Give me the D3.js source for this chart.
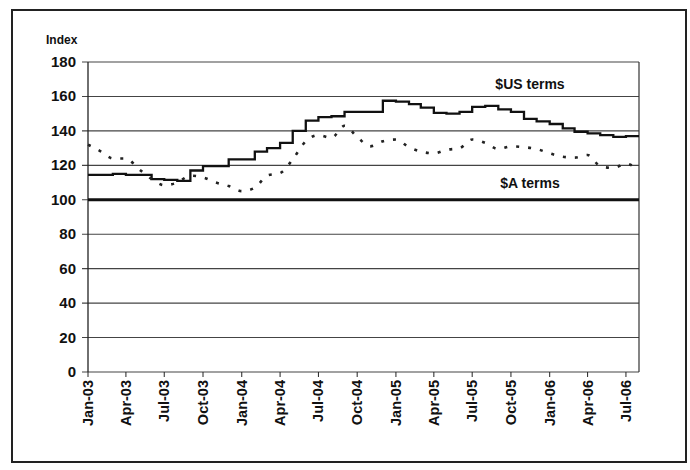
<!DOCTYPE html>
<html>
<head>
<meta charset="utf-8">
<script src="https://cdn.jsdelivr.net/npm/d3@7/dist/d3.min.js"></script>
<style>
body{margin:0;background:#fff;}
text{font-family:"Liberation Sans",Arial,sans-serif;font-weight:bold;fill:#111;}
</style>
</head>
<body>
<script>
// monthly index values, Jan-03 .. Aug-06
var usTerms=[114.5,114.5,115,114.5,114.5,112,111.5,111,117,119.5,119.5,123.5,
    123.5,128,130,133,140,146,148,148.5,151,151,151,157.5,
    157,155.5,153.5,150.5,150,151,154,154.5,152.5,151,147,145.5,
    144,141.5,139.5,138.5,137.5,136.5,137,137];
var aTerms=[132,128,124,124,118,112,108.5,110,114,113,110,108,
    105,107,114,115.5,123.5,134,137.5,136,143,136.5,131,134,
    135,130.5,128,127,129,130,135,133,129.5,131,130.5,129.5,
    127,125,124.5,126,119.5,118.5,121,117];
var baseLine=[100,100];
var yTicks=[0,20,40,60,80,100,120,140,160,180];
var tickLabels=['Jan-03','Apr-03','Jul-03','Oct-03','Jan-04','Apr-04','Jul-04','Oct-04',
    'Jan-05','Apr-05','Jul-05','Oct-05','Jan-06','Apr-06','Jul-06'];
var seriesLabels=[{text:'$US terms',v:167},{text:'$A terms',v:109.5}];

var width=690,height=470;
var plotL=88,plotR=639,plotT=62,plotB=372;
var start=new Date(2003,0,1);
var monthDate=function(i){return d3.timeMonth.offset(start,i);};

var svg=d3.select('body').append('svg').attr('width',width).attr('height',height);

// outer frame
svg.append('rect').attr('x',12).attr('y',10).attr('width',674).attr('height',452)
    .attr('fill','none').attr('stroke','#222').attr('stroke-width',2);

var x=d3.scaleTime().domain([start,monthDate(43)]).range([plotL,plotR]);
var y=d3.scaleLinear().domain([0,180]).range([plotB,plotT]);

// gridlines
svg.selectAll('.grid').data(yTicks).enter().append('line')
    .attr('x1',plotL-6).attr('x2',plotR)
    .attr('y1',function(d){return y(d);}).attr('y2',function(d){return y(d);})
    .attr('stroke','#444').attr('stroke-width',1.1);

// y labels
svg.selectAll('.ylab').data(yTicks).enter().append('text')
    .attr('x',plotL-12).attr('y',function(d){return y(d)+5;})
    .attr('text-anchor','end').style('font-size','15px')
    .text(function(d){return d;});

svg.append('text').attr('x',46).attr('y',44).style('font-size','12px').text('Index');

// plot box sides
svg.append('line').attr('x1',plotL).attr('x2',plotL).attr('y1',plotT).attr('y2',plotB)
    .attr('stroke','#222').attr('stroke-width',1.3);
svg.append('line').attr('x1',plotR).attr('x2',plotR).attr('y1',plotT).attr('y2',plotB)
    .attr('stroke','#333').attr('stroke-width',1.2);

// x axis ticks + labels
var tickDates=tickLabels.map(function(d,i){return monthDate(i*3);});
svg.selectAll('.xt').data(tickDates).enter().append('line')
    .attr('x1',function(d){return x(d);}).attr('x2',function(d){return x(d);})
    .attr('y1',plotB).attr('y2',plotB+5).attr('stroke','#222');
svg.selectAll('.xlab').data(tickLabels).enter().append('text')
    .attr('transform',function(d,i){return 'translate('+(x(tickDates[i])+5)+','+(plotB+8)+') rotate(-90)';})
    .attr('text-anchor','end').style('font-size','14.5px')
    .text(function(d){return d;});

// base line at 100
svg.append('line').attr('x1',x(start)).attr('x2',plotR)
    .attr('y1',y(baseLine[0])).attr('y2',y(baseLine[1]))
    .attr('stroke','#111').attr('stroke-width',3);

var lineUS=d3.line().x(function(d,i){return x(monthDate(i));}).y(function(d){return y(d);})
    .curve(d3.curveStepAfter);
var lineA=d3.line().x(function(d,i){return x(monthDate(i));}).y(function(d){return y(d);})
    .curve(d3.curveMonotoneX);

svg.append('path').datum(usTerms).attr('d',lineUS)
    .attr('fill','none').attr('stroke','#111').attr('stroke-width',2.3);
svg.append('path').datum(aTerms).attr('d',lineA)
    .attr('fill','none').attr('stroke','#222').attr('stroke-width',2.6)
    .attr('stroke-dasharray','3,9');

svg.selectAll('.slab').data(seriesLabels).enter().append('text')
    .attr('x',530).attr('y',function(d){return y(d.v)+5;})
    .attr('text-anchor','middle').style('font-size','14px')
    .text(function(d){return d.text;});
</script>
</body>
</html>
